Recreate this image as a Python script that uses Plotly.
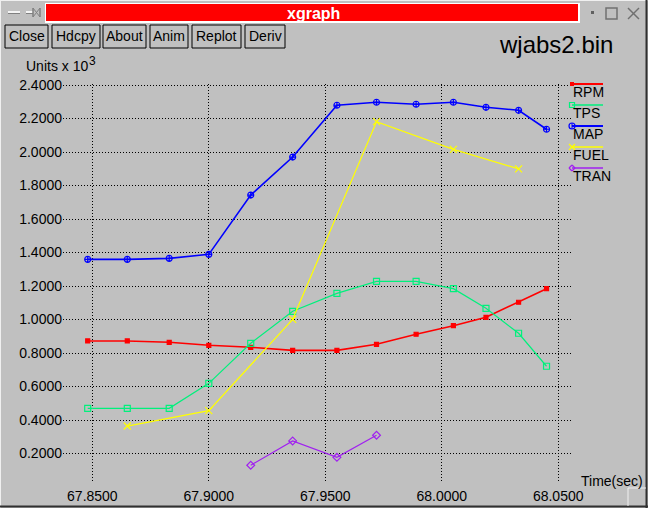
import plotly.graph_objects as go

# ---------------- data ----------------
time_main = [67.848, 67.865, 67.883, 67.900, 67.918, 67.936, 67.955,
             67.972, 67.989, 68.005, 68.019, 68.033, 68.045]
rpm = [0.872, 0.872, 0.864, 0.846, 0.834, 0.816, 0.816,
       0.852, 0.912, 0.963, 1.013, 1.103, 1.184]
tps = [0.470, 0.470, 0.470, 0.619, 0.858, 1.049, 1.156,
       1.228, 1.228, 1.184, 1.067, 0.918, 0.721]
map_kpa = [1.359, 1.359, 1.365, 1.389, 1.743, 1.970, 2.279,
           2.297, 2.285, 2.297, 2.267, 2.249, 2.136]
time_fuel = [67.865, 67.900, 67.936, 67.972, 68.005, 68.033]
fuel = [0.364, 0.456, 1.001, 2.181, 2.016, 1.899]
time_tran = [67.918, 67.936, 67.955, 67.972]
tran = [0.130, 0.275, 0.177, 0.309]

x_ticks = [67.85, 67.90, 67.95, 68.00, 68.05]
x_tick_labels = ["67.8500", "67.9000", "67.9500", "68.0000", "68.0500"]
y_ticks = [0.2, 0.4, 0.6, 0.8, 1.0, 1.2, 1.4, 1.6, 1.8, 2.0, 2.2, 2.4]
y_tick_labels = ["0.2000", "0.4000", "0.6000", "0.8000", "1.0000", "1.2000",
                 "1.4000", "1.6000", "1.8000", "2.0000", "2.2000", "2.4000"]
legend_names = ["RPM", "TPS", "MAP", "FUEL", "TRAN"]
buttons = ["Close", "Hdcpy", "About", "Anim", "Replot", "Deriv"]

# ---------------- styling ----------------
W, H = 648, 508
L, R, T, B = 63, 571, 84, 482
BG = "#c0c0c0"
FONT = "Liberation Sans, Arial, sans-serif"

styles = {
    "RPM":  dict(color="#ff0000", symbol="square", size=4, lw=1.6),
    "TPS":  dict(color="#00f07c", symbol="square-open", size=6, lw=1.2),
    "MAP":  dict(color="#0000ff", symbol="circle-cross-open", size=6, lw=1.6),
    "FUEL": dict(color="#ffff00", symbol="x-thin-open", size=7, lw=1.2),
    "TRAN": dict(color="#a020f0", symbol="diamond-open", size=6, lw=1.2),
}
series = [("RPM", time_main, rpm), ("TPS", time_main, tps),
          ("MAP", time_main, map_kpa), ("FUEL", time_fuel, fuel),
          ("TRAN", time_tran, tran)]


def px(x):
    return (x - L) / (R - L)


def py(y):
    return (B - y) / (B - T)


fig = go.Figure()
for name, t, v in series:
    s = styles[name]
    fig.add_trace(go.Scatter(
        x=t, y=v, mode="lines+markers", name=name, showlegend=False,
        line=dict(color=s["color"], width=s["lw"]),
        marker=dict(symbol=s["symbol"], size=s["size"], color=s["color"],
                    line=dict(color=s["color"], width=1.2)),
        cliponaxis=False))

shapes = []
annotations = []


def rect(x0, y0, x1, y1, fill=None, line=None, lw=1, layer="below"):
    shapes.append(dict(type="rect", xref="paper", yref="paper",
                       x0=px(x0), x1=px(x1), y0=py(y1), y1=py(y0),
                       fillcolor=fill if fill else "rgba(0,0,0,0)",
                       line=dict(color=line if line else "rgba(0,0,0,0)", width=lw if line else 0),
                       layer=layer))


def circ(x0, y0, x1, y1, line, lw=1.2):
    shapes.append(dict(type="circle", xref="paper", yref="paper",
                       x0=px(x0), x1=px(x1), y0=py(y1), y1=py(y0),
                       line=dict(color=line, width=lw), layer="above"))


def seg(x0, y0, x1, y1, color, lw=1, layer="above"):
    shapes.append(dict(type="line", xref="paper", yref="paper",
                       x0=px(x0), x1=px(x1), y0=py(y0), y1=py(y1),
                       line=dict(color=color, width=lw), layer=layer))


def text(x, y, s, size=14, color="black", xanchor="left", bold=False):
    annotations.append(dict(xref="paper", yref="paper", x=px(x), y=py(y),
                            text=f"<b>{s}</b>" if bold else s, showarrow=False,
                            xanchor=xanchor, yanchor="middle",
                            font=dict(family=FONT, size=size, color=color)))


# window frame
seg(0.5, 0, 0.5, H, "#f0f0f0", 1)
seg(0, 0.5, W, 0.5, "#f0f0f0", 1)
seg(0, H - 1.5, W, H - 1.5, "#303030", 2)
seg(W - 1.5, 0, W - 1.5, H, "#303030", 2)
# corner mark
seg(628, 488, 646, 488, "#f0f0f0", 1)
seg(628, 488, 628, 506, "#f0f0f0", 1)

# title bar
rect(45, 3, 580, 23, fill="#ffffff")
rect(46, 4, 578, 21, fill="#ff0000")
text(313, 13, "xgraph", size=16, color="white", xanchor="center", bold=True)
# left icons
seg(8, 12, 20, 12, "#f4f4f4", 2)
seg(8, 13.5, 20, 13.5, "#808080", 1)
seg(26, 12, 33, 12, "#f4f4f4", 2)
seg(26, 13.5, 33, 13.5, "#808080", 1)
seg(33, 8, 33, 17, "#808080", 1.5)
seg(33, 8, 40, 17, "#808080", 1)
seg(33, 17, 40, 8, "#808080", 1)
seg(40, 8, 40, 17, "#808080", 1.5)
# right icons
rect(591, 11, 594, 14, fill="#606060")
rect(606, 8, 617, 19, line="#707070", lw=1.5)
seg(628, 8, 639, 19, "#707070", 1.5)
seg(628, 19, 639, 8, "#707070", 1.5)

# buttons
button_edges = [(5, 48), (52, 100), (103, 146), (150, 188), (192, 241), (245, 285)]
for label, (x0, x1) in zip(buttons, button_edges):
    rect(x0, 25, x1, 48, line="#000000", lw=1)
    text((x0 + x1) / 2, 36, label, size=14, xanchor="center")

# file name and axis units
text(556, 45, "wjabs2.bin", size=24, xanchor="center")
text(24, 66, "Units x 10", size=14)
text(87, 61, "3", size=12)
text(579, 481, "Time(sec)", size=14)

# legend (xgraph style: line above label, marker at line start)
for i, name in enumerate(legend_names):
    s = styles[name]
    c = s["color"]
    ly = 84 + 21 * i
    seg(572, ly, 603, ly, c, 2 if name in ("RPM", "MAP") else 1.5)
    text(571, ly + 8, name, size=14)
    if name == "RPM":
        rect(570, ly - 2, 574, ly + 2, fill=c, layer="above")
    elif name == "TPS":
        rect(569.5, ly - 2.5, 574.5, ly + 2.5, line=c, lw=1.2, layer="above")
    elif name == "MAP":
        circ(569, ly - 3, 575, ly + 3, c)
        seg(572, ly - 3, 572, ly + 3, c, 1)
    elif name == "FUEL":
        seg(569, ly - 3, 575, ly + 3, c, 1.2)
        seg(569, ly + 3, 575, ly - 3, c, 1.2)
    else:
        seg(569, ly, 572, ly - 3, c, 1.2)
        seg(572, ly - 3, 575, ly, c, 1.2)
        seg(575, ly, 572, ly + 3, c, 1.2)
        seg(572, ly + 3, 569, ly, c, 1.2)

fig.update_layout(
    width=W, height=H,
    margin=dict(l=L, r=W - R, t=T, b=H - B, pad=0, autoexpand=False),
    paper_bgcolor=BG, plot_bgcolor=BG,
    font=dict(family=FONT, size=14, color="black"),
    showlegend=False,
    shapes=shapes, annotations=annotations,
    xaxis=dict(range=[67.8374, 68.0555], tickvals=x_ticks, ticktext=x_tick_labels,
               showgrid=True, gridcolor="black", griddash="1px,2px", gridwidth=1,
               zeroline=False, showline=False, ticks="", ticklabelstandoff=4,
               automargin=False,
               tickfont=dict(size=14, family=FONT, color="black")),
    yaxis=dict(range=[0.0299, 2.406], tickvals=y_ticks, ticktext=y_tick_labels,
               showgrid=True, gridcolor="black", griddash="1px,2px", gridwidth=1,
               zeroline=False, showline=False, ticks="", ticklabelstandoff=0,
               automargin=False,
               tickfont=dict(size=14, family=FONT, color="black")),
)

fig.write_html("out.html", config={"displayModeBar": False},
               post_script="document.body.style.margin='0';document.body.style.background='#c0c0c0';")
